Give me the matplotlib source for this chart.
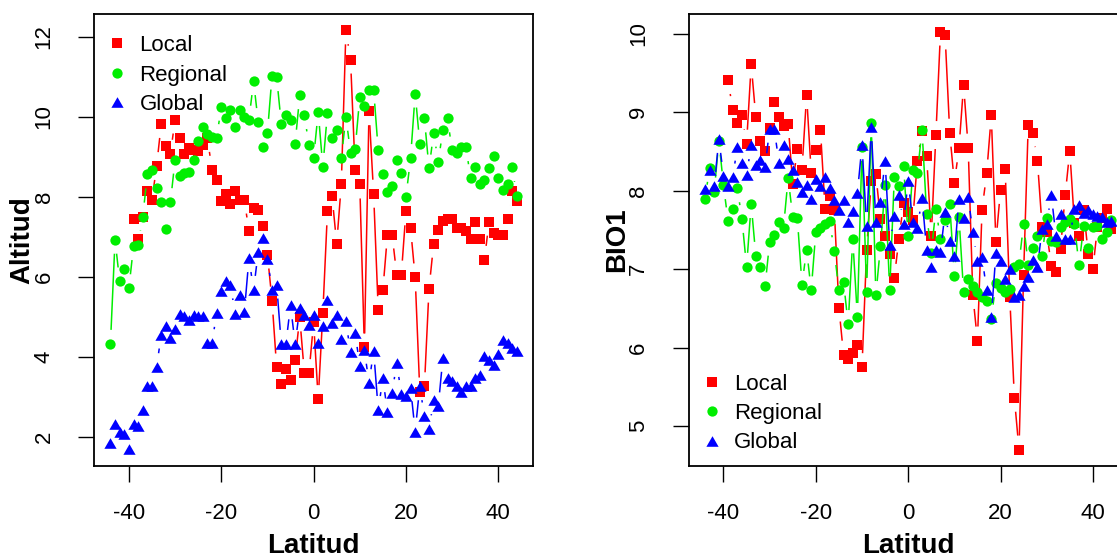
import numpy as np
import matplotlib
matplotlib.use("Agg")
from matplotlib import pyplot as plt

plt.rcParams['font.family'] = ['Liberation Sans', 'DejaVu Sans']
plt.rcParams['axes.unicode_minus'] = False

nan = np.nan
latitud = np.arange(-44, 45)

# Altitud panel
alt_local = [nan, nan, nan, nan, nan,
             7.45, 6.96, 7.50, 8.14, 7.93, 8.77, 9.82, 9.27, 9.08, 9.93,
             9.47, 9.08, 9.22, 9.18, 9.14, 9.30, 9.47, 8.68, 8.43, 7.89,
             8.08, 7.83, 8.14, 7.93, 7.93, 7.14, 7.72, 7.68, 7.27, 6.56,
             5.41, 3.74, 3.33, 3.70, 3.43, 3.93, 4.99, 3.60, 3.60, 4.87,
             2.95, 5.10, 7.64, 8.02, 6.83, 8.31, 12.16, 11.43, 8.66, 8.31,
             4.24, 10.14, 8.08, 5.17, 5.67, 7.06, 7.06, 6.06, 6.06, 7.64,
             7.22, 5.99, 3.14, 3.27, 5.71, 6.83, 7.18, 7.39, 7.45, 7.45,
             7.22, 7.22, 7.14, 6.95, 7.38, 6.95, 6.43, 7.38, 7.10, 7.06,
             7.06, 7.45, 8.14, 7.89]
alt_regional = [4.33, 6.93, 5.89, 6.20, 5.72, 6.77, 6.81, 7.51, 8.56, 8.67,
                8.22, 7.87, 7.20, 7.87, 8.93, 8.53, 8.60, 8.62, 8.93, 9.39,
                9.75, 9.56, 9.50, 9.47, 10.25, 9.96, 10.18, 9.75, 10.18, 10.00,
                9.93, 10.89, 9.87, 9.24, 9.60, 11.03, 10.99, 9.83, 10.04, 9.92,
                9.33, 10.54, 10.04, 9.29, 8.97, 10.12, 8.75, 10.10, 9.47, 9.66,
                8.97, 10.00, 9.10, 9.20, 10.49, 10.27, 10.68, 10.68, 9.16, 8.57,
                8.12, 8.27, 8.93, 8.60, 7.99, 8.97, 10.58, 9.33, 9.96, 8.71,
                9.60, 8.87, 9.68, 9.96, 9.16, 9.10, 9.24, 9.24, 8.47, 8.75,
                8.31, 8.43, 8.71, 9.02, 8.47, 8.17, 8.31, 8.74, 8.03]
alt_global = [1.85, 2.33, 2.13, 2.08, 1.70, 2.33, 2.28, 2.68, 3.27, 3.27,
              3.75, 4.56, 4.78, 4.48, 4.70, 5.08, 5.02, 4.92, 5.06, 5.02,
              5.02, 4.35, 4.35, 5.10, 5.64, 5.89, 5.81, 5.08, 5.56, 5.12,
              6.47, 5.68, 6.62, 6.97, 6.45, 5.68, 5.81, 4.33, 4.33, 5.29,
              4.33, 5.22, 5.04, 4.81, 5.04, 4.35, 4.78, 5.43, 4.85, 5.06,
              4.46, 4.89, 4.12, 4.60, 3.78, 4.18, 3.35, 4.16, 2.68, 3.47,
              2.62, 3.10, 3.85, 3.08, 3.02, 3.24, 2.14, 3.27, 2.52, 2.20,
              2.92, 2.77, 3.98, 3.48, 3.39, 3.27, 3.14, 3.27, 3.27, 3.48,
              3.56, 4.03, 3.93, 3.81, 4.07, 4.43, 4.35, 4.22, 4.16]

# BIO1 panel
bio_local = [nan, nan, nan, nan, nan,
             9.41, 9.03, 8.86, 8.96, 8.60, 9.61, 8.94, 8.63, 8.51, 8.80,
             9.13, 8.94, 8.83, 8.85, 8.09, 8.53, 8.27, 9.22, 8.23, 8.52,
             8.78, 7.77, 7.93, 7.76, 6.51, 5.91, 5.86, 5.93, 6.03, 5.75,
             7.24, 8.12, 8.21, 7.64, 7.42, 7.19, 6.89, 7.39, 7.84, 7.73,
             7.63, 8.38, 8.76, 8.44, 7.42, 8.71, 10.03, 9.98, 8.74, 8.10,
             8.54, 9.35, 8.55, 6.67, 6.09, 7.76, 8.22, 8.96, 7.35, 8.01,
             8.28, 6.65, 5.36, 4.70, 6.93, 8.84, 8.74, 8.38, 7.54, 7.48,
             7.04, 6.97, 7.26, 7.94, 8.51, 7.59, 7.42, 7.76, 7.19, 7.00,
             7.54, 7.65, 7.77, 7.51]
bio_regional = [7.90, 8.29, 7.99, 8.64, 8.07, 7.61, 7.77, 8.03, 7.64, 7.03,
                7.83, 7.17, 7.03, 6.78, 7.35, 7.44, 7.60, 7.53, 8.16, 7.67,
                7.65, 6.80, 7.25, 6.73, 7.48, 7.52, 7.57, 7.61, 7.23, 6.73,
                6.84, 6.30, 7.38, 6.39, 8.56, 6.71, 8.86, 6.67, 7.29, 8.07,
                6.73, 8.18, 8.06, 8.32, 7.42, 8.26, 8.22, 8.78, 7.70, 7.21,
                7.77, 7.38, 7.63, 7.83, 6.91, 7.67, 6.71, 6.88, 6.79, 6.71,
                6.65, 6.59, 6.37, 6.82, 6.76, 6.71, 6.75, 7.03, 7.07, 7.58,
                7.05, 7.27, 7.42, 7.17, 7.65, 7.36, 7.34, 7.54, 7.60, 7.64,
                7.57, 7.05, 7.55, 7.27, 7.54, 7.55, 7.39, 7.47, 7.63]
bio_global = [8.02, 8.26, 8.06, 8.66, 8.19, 8.06, 8.17, 8.56, 8.36, 8.20,
              8.58, 8.33, 8.39, 8.30, 8.79, 8.79, 8.36, 8.58, 8.41, 8.26,
              8.11, 7.99, 8.07, 7.89, 8.15, 8.06, 8.18, 8.04, 7.88, 7.76,
              7.88, 7.60, 7.74, 7.97, 8.58, 7.55, 8.81, 7.60, 7.85, 8.38,
              7.31, 7.68, 7.94, 7.58, 8.13, 7.60, 7.53, 7.91, 7.25, 7.03,
              7.24, 7.22, 7.73, 7.36, 7.17, 7.90, 7.65, 7.92, 7.47, 7.11,
              7.15, 6.73, 6.39, 7.20, 7.11, 6.88, 7.00, 6.65, 6.67, 6.78,
              6.90, 7.12, 7.03, 7.51, 7.58, 7.95, 7.42, 7.70, 7.38, 7.39,
              7.77, 7.82, 7.72, 7.76, 7.70, 7.68, 7.67, 7.60, 7.62]

series_names = ['Local', 'Regional', 'Global']
series_colors = ['#FF0000', '#00EE00', '#0000FF']
series_markers = ['s', 'o', [(0, 0.78), (-0.9, -0.78), (0.9, -0.78)]]
marker_sizes = [7.2, 7.4, 8.8]


def type_b_lines(ax, x, y, color, gap_px=14):
    """R-style type='b' lines: segments between points, cut back around each point."""
    x = np.asarray(x, dtype=float)
    y = np.asarray(y, dtype=float)
    pts = ax.transData.transform(np.column_stack([x, y]))
    inv = ax.transData.inverted()
    for i in range(len(x) - 1):
        if not (np.isfinite(y[i]) and np.isfinite(y[i + 1])):
            continue
        d = pts[i + 1] - pts[i]
        length = np.hypot(*d)
        if length <= 2 * gap_px:
            continue
        u = d / length
        a = inv.transform(pts[i] + u * gap_px)
        b = inv.transform(pts[i + 1] - u * gap_px)
        ax.plot([a[0], b[0]], [a[1], b[1]], color=color, lw=1.1,
                solid_capstyle='butt')


def draw_panel(ax, ys, ylim, yticks, ylabel, legend_loc, legend_anchor):
    ax.set_xlim(-47.5, 47.5)
    ax.set_ylim(*ylim)
    handles = []
    for y, name, col, mk, ms in zip(ys, series_names, series_colors,
                                     series_markers, marker_sizes):
        type_b_lines(ax, latitud, y, col)
        h, = ax.plot(latitud, y, linestyle='none', marker=mk, ms=ms,
                     color=col, markeredgewidth=0, label=name)
        handles.append(h)

    ax.set_xticks([-40, -20, 0, 20, 40])
    ax.set_yticks(yticks)
    ax.set_yticklabels([str(t) for t in yticks], rotation=90, va='center')
    ax.tick_params(direction='out', length=11.5, width=1.0, labelsize=16)
    ax.tick_params(axis='x', pad=15)
    ax.tick_params(axis='y', pad=17)
    for sp in ax.spines.values():
        sp.set_linewidth(1.3)

    ax.set_xlabel('Latitud', fontsize=20, fontweight='bold', va='center')
    ax.xaxis.set_label_coords(0.5, -0.177)
    ax.set_ylabel(ylabel, fontsize=20, fontweight='bold', va='center')
    ax.yaxis.set_label_coords(-0.163, 0.5)

    ax.legend(handles=handles, loc=legend_loc, bbox_to_anchor=legend_anchor,
              frameon=False, fontsize=16, handlelength=0.8, handletextpad=0.6,
              labelspacing=0.38, borderaxespad=0)


fig = plt.figure(figsize=(11.17, 5.58), dpi=100)
ax1 = fig.add_axes([0.0844, 0.1649, 0.3927, 0.8109])
ax2 = fig.add_axes([0.6167, 0.1649, 0.3927, 0.8109])

draw_panel(ax1, [alt_local, alt_regional, alt_global], (1.28, 12.58),
           [2, 4, 6, 8, 10, 12], 'Altitud', 'upper left', (0.012, 0.972))
draw_panel(ax2, [bio_local, bio_regional, bio_global], (4.49, 10.26),
           [5, 6, 7, 8, 9, 10], 'BIO1', 'lower left', (0.012, 0.008))

fig.savefig('out.png', dpi=100)
